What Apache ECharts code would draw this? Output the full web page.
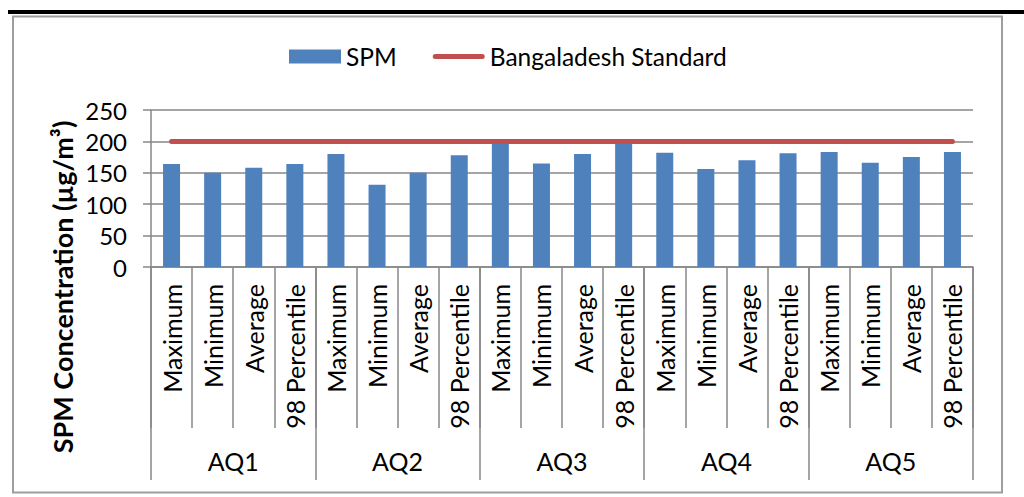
<!DOCTYPE html>
<html>
<head>
<meta charset="utf-8">
<script src="https://cdn.jsdelivr.net/npm/echarts@6/dist/echarts.min.js"></script>
<style>
  html, body { margin: 0; padding: 0; background: #fff; }
  #chart { width: 1024px; height: 497px; }
</style>
</head>
<body>
<div id="chart"></div>
<script>
// Monitoring stations and the statistics reported at each
const stations = ['AQ1', 'AQ2', 'AQ3', 'AQ4', 'AQ5'];
const stats = ['Maximum', 'Minimum', 'Average', '98 Percentile'];

// SPM concentration (µg/m³) per station, in the order of `stats`
const aq1 = [164, 150, 158, 164];
const aq2 = [180, 131, 150, 178];
const aq3 = [197, 165, 180, 197];
const aq4 = [182, 156, 170, 181];
const aq5 = [183, 166, 175, 183];

// National ambient standard for SPM
const bangladeshStandard = 200;

// Y axis ticks
const yTicks = [0, 50, 100, 150, 200, 250];

const categories = [];
stations.forEach(() => stats.forEach(s => categories.push(s)));
const spmValues = [].concat(aq1, aq2, aq3, aq4, aq5);
const standardValues = categories.map(() => bangladeshStandard);

const FONT = 'Lato, "Open Sans", sans-serif';
const GRID_COLOR = '#878787';

// thick rounded stroke used as the legend key of the standard line
const LINE_KEY = 'path://M2.5,0 L49.5,0 A2.5,2.5 0 0 1 49.5,5 L2.5,5 A2.5,2.5 0 0 1 2.5,0 Z';

const chart = echarts.init(document.getElementById('chart'), null, { renderer: 'svg' });

chart.setOption({
  backgroundColor: '#ffffff',
  animation: false,
  textStyle: { fontFamily: FONT, color: '#000' },
  legend: {
    left: 289,
    top: 44,
    padding: 0,
    itemWidth: 52,
    itemHeight: 14,
    itemGap: 36,
    textStyle: { fontFamily: FONT, fontSize: 24.5, color: '#000' },
    data: [
      { name: 'SPM', icon: 'rect' },
      { name: 'Bangaladesh Standard', icon: LINE_KEY }
    ]
  },
  grid: { left: 151, right: 51, top: 110, bottom: 230, containLabel: false },
  xAxis: [
    {
      type: 'category',
      data: categories,
      boundaryGap: true,
      axisLine: { show: true, lineStyle: { color: GRID_COLOR, width: 1.5 } },
      axisTick: { show: true, interval: 0, length: 161, lineStyle: { color: GRID_COLOR, width: 1.5 } },
      axisLabel: {
        interval: 0,
        rotate: 90,
        margin: 17,
        fontFamily: FONT,
        fontSize: 25,
        color: '#000'
      }
    },
    {
      type: 'category',
      data: stations,
      position: 'bottom',
      boundaryGap: true,
      axisLine: { show: false },
      axisTick: { show: true, interval: 0, length: 213, lineStyle: { color: GRID_COLOR, width: 1.5 } },
      axisLabel: {
        interval: 0,
        margin: 181,
        fontFamily: FONT,
        fontSize: 25,
        color: '#000'
      }
    }
  ],
  yAxis: {
    type: 'value',
    min: yTicks[0],
    max: yTicks[yTicks.length - 1],
    interval: yTicks[1] - yTicks[0],
    axisLine: { show: true, lineStyle: { color: GRID_COLOR, width: 1.5 } },
    axisTick: { show: true, inside: false, length: 8, lineStyle: { color: GRID_COLOR, width: 1.5 } },
    splitLine: { show: true, lineStyle: { color: GRID_COLOR, width: 1.5 } },
    axisLabel: { margin: 24, fontFamily: FONT, fontSize: 24, color: '#000' }
  },
  series: [
    {
      name: 'SPM',
      type: 'bar',
      xAxisIndex: 0,
      data: spmValues,
      barWidth: 17,
      itemStyle: { color: '#4F81BD' },
      z: 2
    },
    {
      name: 'Bangaladesh Standard',
      type: 'line',
      xAxisIndex: 0,
      data: standardValues,
      symbol: 'none',
      lineStyle: { color: '#C0504D', width: 5, cap: 'round' },
      itemStyle: { color: '#C0504D' },
      z: 3
    }
  ],
  graphic: [
    // heavy rule across the top of the page
    { type: 'rect', left: 8, top: 10, shape: { width: 1016, height: 4 }, style: { fill: '#000' }, silent: true },
    // chart frame
    { type: 'rect', shape: { x: 13, y: 16.5, width: 989, height: 476 }, style: { fill: 'none', stroke: '#9e9e9e', lineWidth: 2 }, silent: true, z: -1 },
    // value axis title
    {
      type: 'text',
      x: 62,
      y: 287,
      rotation: Math.PI / 2,
      style: {
        text: 'SPM Concentration (µg/m³)',
        fontFamily: FONT,
        fontWeight: 'bold',
        fontSize: 27,
        fill: '#000',
        align: 'center',
        verticalAlign: 'middle'
      },
      silent: true
    }
  ]
});
</script>
</body>
</html>
